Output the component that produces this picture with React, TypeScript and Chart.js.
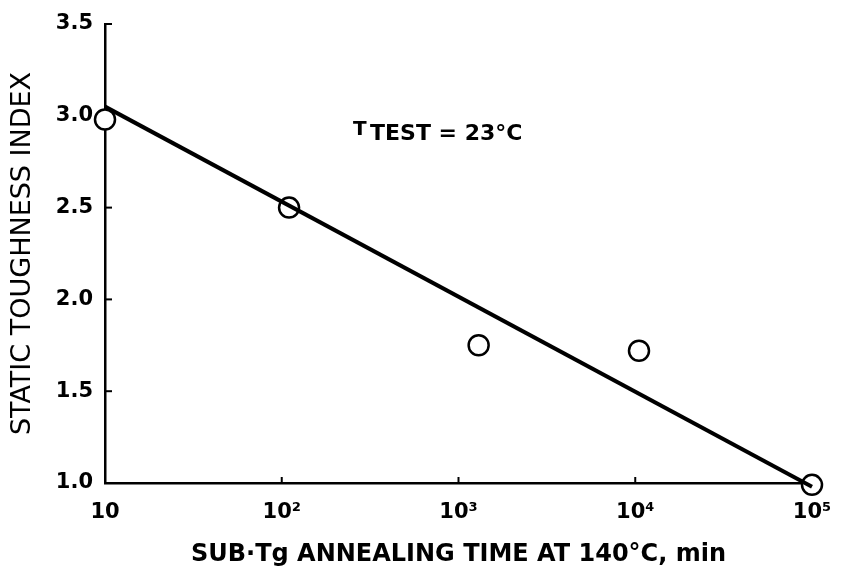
import React, { useEffect, useRef } from 'react';
import { Chart, registerables } from 'chart.js';
Chart.register(...registerables);

const pointX = [10, 110, 1300, 10500, 100000];
const pointY = [2.98, 2.5, 1.75, 1.72, 0.99];
const fitX = [10, 100000];
const fitY = [3.05, 0.98];
const xTicks = [10, 100, 1000, 10000, 100000];
const xTickLabels = ['10', '10²', '10³', '10⁴', '10⁵'];
const yTicks = [1.0, 1.5, 2.0, 2.5, 3.0, 3.5];
const xTitle = 'SUB·Tg ANNEALING TIME AT 140°C, min';
const yTitle = 'STATIC TOUGHNESS INDEX';

const FONT = '"DejaVu Sans", "Liberation Sans", Arial, sans-serif';

const inwardTicks = {
  id: 'inwardTicks',
  beforeDatasetsDraw(chart: any) {
    const { ctx, chartArea, scales } = chart;
    ctx.save();
    ctx.strokeStyle = '#000';
    ctx.lineWidth = 2;
    yTicks.forEach((v) => {
      if (v === 1.0) return;
      const y = scales.y.getPixelForValue(v);
      ctx.beginPath();
      ctx.moveTo(chartArea.left, y);
      ctx.lineTo(chartArea.left + 7, y);
      ctx.stroke();
    });
    xTicks.forEach((v, i) => {
      if (i === 0 || i === xTicks.length - 1) return;
      const x = scales.x.getPixelForValue(v);
      ctx.beginPath();
      ctx.moveTo(x, chartArea.bottom);
      ctx.lineTo(x, chartArea.bottom - 6);
      ctx.stroke();
    });
    ctx.restore();
  },
};

const annotation = {
  id: 'annotation',
  afterDraw(chart: any) {
    const { ctx, chartArea } = chart;
    ctx.save();
    ctx.fillStyle = '#000';
    ctx.textBaseline = 'alphabetic';
    ctx.textAlign = 'left';
    ctx.font = `bold 20px ${FONT}`;
    const x0 = chartArea.left + 248;
    ctx.fillText('T', x0, chartArea.top + 111);
    ctx.font = `bold 22px ${FONT}`;
    ctx.fillText('TEST = 23°C', x0 + 17, chartArea.top + 116);
    ctx.restore();
  },
};

export default function App() {
  const ref = useRef<HTMLCanvasElement>(null);
  useEffect(() => {
    document.body.style.margin = '0';
    const chart = new Chart(ref.current as HTMLCanvasElement, {
      type: 'scatter',
      data: {
        datasets: [
          {
            label: 'fit',
            data: fitX.map((x, i) => ({ x, y: fitY[i] })),
            showLine: true,
            borderColor: '#000',
            borderWidth: 4,
            pointRadius: 0,
            clip: false as any,
          },
          {
            label: 'data',
            data: pointX.map((x, i) => ({ x, y: pointY[i] })),
            showLine: false,
            pointRadius: 10,
            pointBackgroundColor: '#fff',
            pointBorderColor: '#000',
            pointBorderWidth: 2.5,
            clip: false as any,
          },
        ],
      },
      options: {
        animation: false,
        responsive: false,
        layout: { padding: { left: 0, right: 31, top: 24, bottom: 0 } },
        plugins: { legend: { display: false }, tooltip: { enabled: false } },
        scales: {
          x: {
            type: 'logarithmic',
            min: 10,
            max: 100000,
            afterBuildTicks: (s: any) => {
              s.ticks = xTicks.map((v) => ({ value: v }));
            },
            afterFit: (s: any) => {
              s.height = 103;
              s.paddingLeft = 0;
              s.paddingRight = 0;
            },
            ticks: {
              color: '#000',
              font: { family: FONT, size: 21, weight: 'bold' },
              padding: 17,
              maxRotation: 0,
              autoSkip: false,
              callback: (v: any) => {
                const i = xTicks.indexOf(Number(v));
                return i >= 0 ? xTickLabels[i] : '';
              },
            },
            grid: { display: false, drawTicks: false },
            border: { display: true, color: '#000', width: 2.5 },
            title: {
              display: true,
              text: xTitle,
              color: '#000',
              font: { family: FONT, size: 24, weight: 'bold' },
              padding: { top: 0, bottom: 17 },
            },
          },
          y: {
            min: 1.0,
            max: 3.5,
            afterBuildTicks: (s: any) => {
              s.ticks = yTicks.map((v) => ({ value: v }));
            },
            afterFit: (s: any) => {
              s.width = 105;
              s.paddingTop = 0;
              s.paddingBottom = 0;
            },
            ticks: {
              color: '#000',
              font: { family: FONT, size: 21, weight: 'bold' },
              padding: 12,
              callback: (v: any) => Number(v).toFixed(1),
            },
            grid: { display: false, drawTicks: false },
            border: { display: true, color: '#000', width: 2.5 },
            title: {
              display: true,
              text: yTitle,
              color: '#000',
              font: { family: FONT, size: 27 },
              padding: { top: 7, bottom: 0 },
            },
          },
        },
      },
      plugins: [inwardTicks, annotation],
    } as any);
    return () => chart.destroy();
  }, []);
  return (
    <div style={{ width: 843, height: 586, background: '#fff' }}>
      <canvas ref={ref} width={843} height={586} style={{ display: 'block' }} />
    </div>
  );
}
